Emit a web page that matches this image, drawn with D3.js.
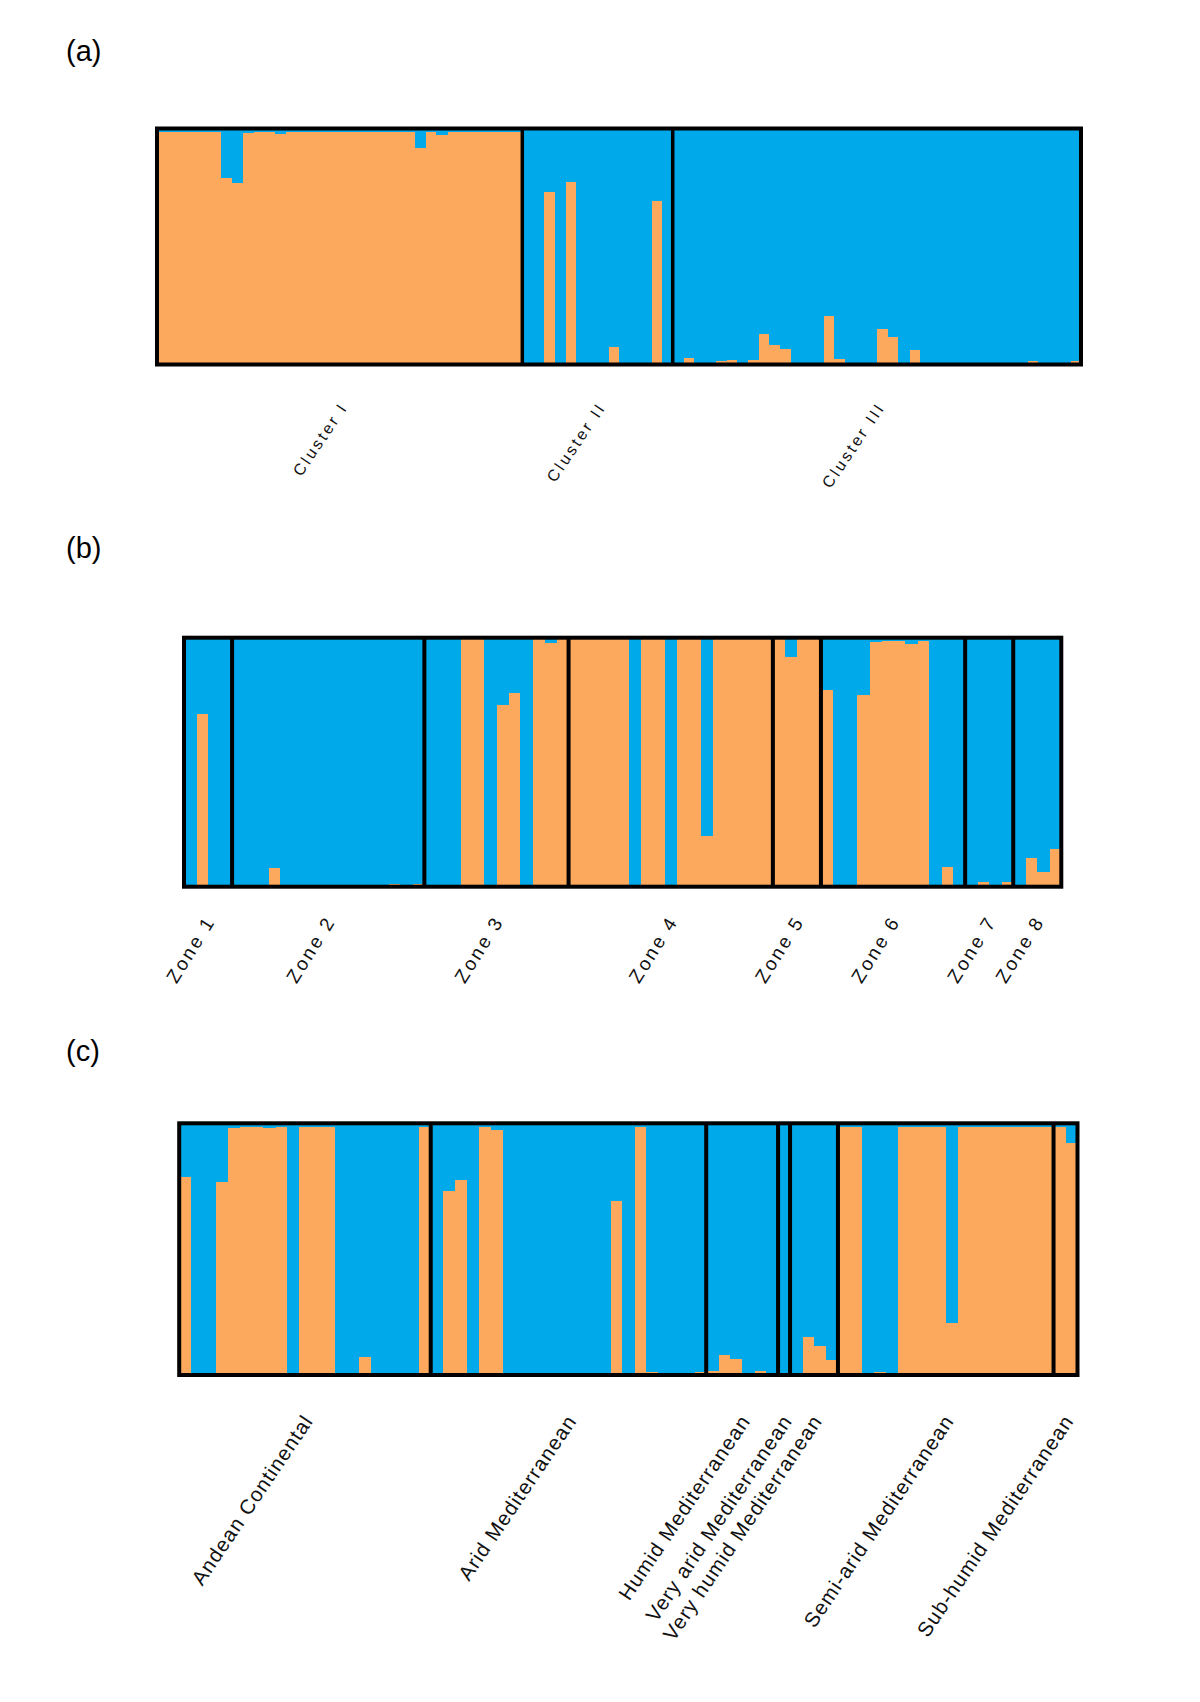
<!DOCTYPE html>
<html><head><meta charset="utf-8">
<script src="https://cdn.jsdelivr.net/npm/d3@7"></script>
<style>body{margin:0;background:#fff} svg{display:block}</style>
</head><body>
<script>
// ---------- Colours ----------
const ORANGE = "#FCA95E", BLUE = "#00A9E9";

// ---------- Panel (a): membership (orange fraction) per individual ----------
const clusterNames = ["Cluster I", "Cluster II", "Cluster III"];
const clusterI = [0.984,0.984,0.984,0.984,0.984,0.984,0.789,0.768,0.980,0.984,0.984,0.978,
  0.984,0.984,0.984,0.984,0.984,0.984,0.984,0.984,0.984,0.984,0.984,0.984,0.917,0.984,0.972,
  0.984,0.984,0.984,0.984,0.984,0.984,0.984];
const clusterII = [0,0,0.732,0,0.773,0,0,0,0.074,0,0,0,0.693,0];
const clusterIII = [0,0.028,0,0,0.014,0.020,0,0.020,0.129,0.081,0.067,0,0,0,0.206,0.022,0,0,0,
  0.150,0.117,0,0.061,0,0,0,0,0,0,0,0,0,0,0.015,0,0,0,0.015];

// ---------- Panel (b) ----------
const zoneNames = ["Zone 1","Zone 2","Zone 3","Zone 4","Zone 5","Zone 6","Zone 7","Zone 8"];
const zone1 = [0,0.694,0,0];
const zone2 = [0,0,0,0.075,0,0,0,0,0,0,0,0,0,0.011,0,0.011];
const zone3 = [0,0,0,1,1,0,0.730,0.777,0,1,0.977,1];
const zone4 = [1,1,1,1,1,0,1,1,0,1,1,0.205,1,1,1,1,1];
const zone5 = [1,0.924,1,1];
const zone6 = [0.790,0,0,0.770,0.981,0.987,0.987,0.975,0.987,0,0.080,0];
const zone7 = [0,0.019,0,0.019];
const zone8 = [0,0.114,0.060,0.150];

// ---------- Panel (c) ----------
const climateNames = ["Andean Continental","Arid Mediterranean","Humid Mediterranean",
  "Very arid Mediterranean","Very humid Mediterranean","Semi-arid Mediterranean","Sub-humid Mediterranean"];
const andean = [0.788,0,0,0.768,0.980,0.987,0.987,0.983,0.987,0,0.987,0.987,0.987,0,0,0.073,0,0,0,0,0.987];
const arid = [0,0.731,0.775,0,0.987,0.973,0,0,0,0,0,0,0,0,0,0.692,0,0.987,0.011,0,0,0,0.011];
const humid = [0.017,0.079,0.064,0,0.017,0];
const veryArid = [0];
const veryHumid = [0,0.150,0.116,0.060];
const semiArid = [0.987,0.987,0,0.013,0,0.987,0.987,0.987,0.987,0.205,0.987,0.987,0.987,0.987,0.987,0.987,0.987,0.987];
const subHumid = [0.987,0.921];

const W = 1200, H = 1702;
const svg = d3.select("body").append("svg").attr("width", W).attr("height", H)
  .attr("font-family", "'Liberation Sans', Arial, Helvetica, sans-serif");

function drawPanel(groupNames, groupValues, cfg) {
  const rows = [];
  const bounds = [];
  groupValues.forEach((vals, gi) => {
    bounds.push({ name: groupNames[gi], start: rows.length, end: rows.length + vals.length });
    vals.forEach(v => rows.push({ id: rows.length, orange: v, blue: 1 - v }));
  });
  const x = d3.scaleBand().domain(rows.map(d => d.id)).range([cfg.x0, cfg.x1]).padding(0);
  const y = d3.scaleLinear().domain([0, 1]).range([cfg.y1, cfg.y0]);
  const series = d3.stack().keys(["orange", "blue"])(rows);
  const colors = { orange: ORANGE, blue: BLUE };
  const g = svg.append("g");
  series.forEach(s => {
    g.append("g").attr("shape-rendering", "crispEdges")
      .selectAll("rect").data(s).join("rect")
      .attr("x", d => x(d.data.id))
      .attr("width", x.bandwidth() + 0.5)
      .attr("y", d => y(d[1]))
      .attr("height", d => Math.max(0, y(d[0]) - y(d[1])))
      .attr("fill", colors[s.key]);
  });
  // group dividers
  g.selectAll("line.div").data(bounds.slice(1)).join("line")
    .attr("x1", d => x(d.start)).attr("x2", d => x(d.start))
    .attr("y1", cfg.y0).attr("y2", cfg.y1)
    .attr("stroke", "#000").attr("stroke-width", cfg.divW);
  // frame
  g.append("rect").attr("x", cfg.x0).attr("y", cfg.y0)
    .attr("width", cfg.x1 - cfg.x0).attr("height", cfg.y1 - cfg.y0)
    .attr("fill", "none").attr("stroke", "#000").attr("stroke-width", cfg.frameW);
  // group labels
  const bw = x.bandwidth();
  g.selectAll("text.lab").data(bounds).join("text")
    .attr("transform", d => {
      const cx = (x(d.start) + x(d.end - 1) + bw) / 2 + cfg.dx;
      return `translate(${cx},${cfg.labelY}) rotate(${cfg.angle})`;
    })
    .attr("text-anchor", "end")
    .attr("font-size", cfg.fontSize)
    .attr("letter-spacing", cfg.ls)
    .attr("fill", "#111")
    .text(d => d.name);
  // panel letter
  svg.append("text").attr("x", 66).attr("y", cfg.letterY)
    .attr("font-size", 29).attr("fill", "#000").text(cfg.letter);
}

drawPanel(clusterNames, [clusterI, clusterII, clusterIII], {
  x0: 157, x1: 1081, y0: 128.5, y1: 364.5, frameW: 4, divW: 3.5,
  labelY: 407, dx: 9, angle: -56, fontSize: 16, ls: 2.8, letter: "(a)", letterY: 61
});
drawPanel(zoneNames, [zone1, zone2, zone3, zone4, zone5, zone6, zone7, zone8], {
  x0: 184, x1: 1061.3, y0: 637.7, y1: 886.7, frameW: 4, divW: 4,
  labelY: 921, dx: 8, angle: -58, fontSize: 19, ls: 2.6, letter: "(b)", letterY: 558
});
drawPanel(climateNames, [andean, arid, humid, veryArid, veryHumid, semiArid, subHumid], {
  x0: 179.2, x1: 1077.5, y0: 1123.3, y1: 1375, frameW: 4, divW: 4,
  labelY: 1421, dx: 9, angle: -56, fontSize: 20.5, ls: 1.1, letter: "(c)", letterY: 1061
});
</script>
</body></html>
